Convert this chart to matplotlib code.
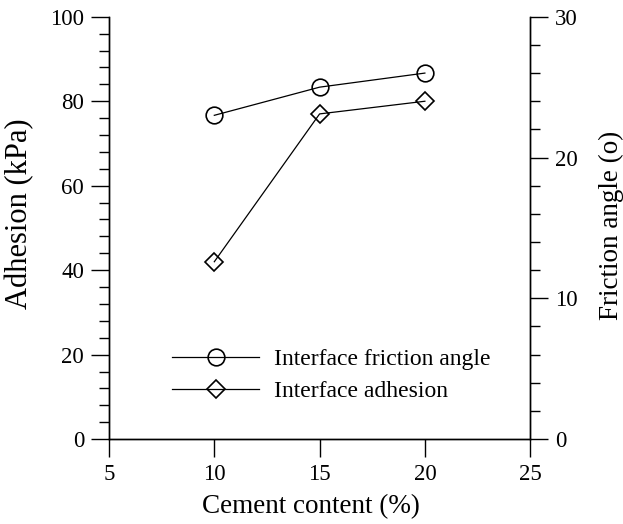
import matplotlib
matplotlib.use("Agg")
import matplotlib.pyplot as plt
from matplotlib.ticker import MultipleLocator

plt.rcParams["font.family"] = ["Liberation Serif", "DejaVu Serif"]
plt.rcParams["font.size"] = 16.5

cement = [10, 15, 20]
friction_angle = [23.0, 25.0, 26.0]
adhesion = [42.0, 77.0, 80.0]

fig = plt.figure(figsize=(6.23, 5.24), dpi=100)
ax = fig.add_axes([0.175, 0.162, 0.676, 0.806])
ax2 = ax.twinx()

for a in (ax, ax2):
    a.spines["top"].set_visible(False)
    for s in a.spines.values():
        s.set_linewidth(1.0)
    a.patch.set_visible(False)

l1, = ax2.plot(cement, friction_angle, "-", color="black", lw=0.9,
               marker="o", ms=12, mfc="none", mec="black", mew=1.2)
l2, = ax.plot(cement, adhesion, "-", color="black", lw=0.9,
              marker="D", ms=9, mfc="none", mec="black", mew=1.2)

ax.set_xlim(5, 25)
ax.set_ylim(0, 100)
ax2.set_ylim(0, 30)
ax.xaxis.set_major_locator(MultipleLocator(5))
ax.yaxis.set_major_locator(MultipleLocator(20))
ax.yaxis.set_minor_locator(MultipleLocator(4))
ax2.yaxis.set_major_locator(MultipleLocator(10))
ax2.yaxis.set_minor_locator(MultipleLocator(2))

ax.tick_params(axis="both", which="major", direction="out", length=13, width=1.0, pad=5)
ax.tick_params(axis="y", which="minor", direction="out", length=7, width=1.0)
ax2.tick_params(axis="y", which="major", direction="out", length=13, width=1.0, pad=5)
ax2.tick_params(axis="y", which="minor", direction="out", length=7, width=1.0)

# axis titles, placed explicitly
ax.set_xlabel("Cement content (%)", fontsize=19.5, va="center")
ax.xaxis.set_label_coords(0.48, -0.161)
ax.set_ylabel("Adhesion (kPa)", fontsize=22, va="center", ha="center")
ax.yaxis.set_label_coords(-0.213, 0.533)
ax2.set_ylabel("Friction angle (o)", fontsize=19.5, va="center", ha="center")
ax2.yaxis.set_label_coords(1.192, 0.507)

ax2.legend([l1, l2], ["Interface friction angle", "Interface adhesion"],
           loc="lower left", bbox_to_anchor=(0.099, 0.038), frameon=False,
           fontsize=17, handlelength=3.7, labelspacing=0.44, handletextpad=0.64)

fig.savefig("out.png", dpi=100)
